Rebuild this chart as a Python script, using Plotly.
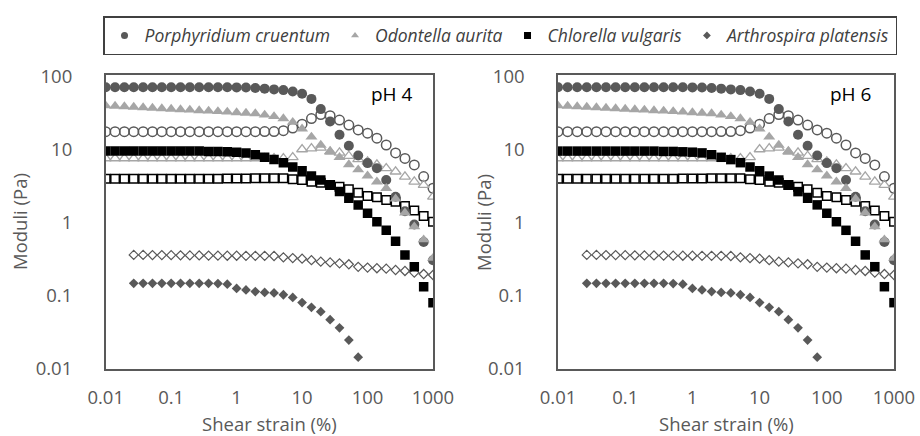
import plotly.graph_objects as go

# ---------------- data ----------------
strain = [0.01, 0.0139, 0.0193, 0.0268, 0.0373, 0.0518, 0.0720, 0.1, 0.139, 0.193,
          0.268, 0.373, 0.518, 0.720, 1.0, 1.39, 1.93, 2.68, 3.73, 5.18,
          7.20, 10, 13.9, 19.3, 26.8, 37.3, 51.8, 72.0, 100, 139,
          193, 268, 373, 518, 720, 1000]
strain_arthro = strain[3:]
strain_arthro_g1 = strain[3:28]

# Porphyridium cruentum
porph_g1 = [72.4, 72.4, 72.4, 72.4, 72.4, 72.4, 72.4, 72.4, 72.4, 72.4,
            72.4, 72.4, 72.4, 72.4, 72.0, 71.6, 70.8, 69.2, 67.6, 66.1,
            63.1, 58.9, 50.1, 36.3, 24.5, 16.2, 11.4, 8.41, 6.61, 5.62,
            3.89, 2.29, 1.45, 0.955, 0.55, 0.309]
porph_g2 = [17.8, 17.8, 17.8, 17.8, 17.8, 17.8, 17.8, 17.8, 17.8, 17.8,
            17.8, 17.8, 17.8, 17.8, 17.8, 17.8, 17.8, 17.9, 17.9, 18.4,
            20.0, 22.6, 26.9, 30.5, 29.5, 25.7, 21.9, 18.8, 17.0, 14.5,
            11.7, 9.12, 7.67, 6.24, 4.32, 2.99]
# Odontella aurita
odont_g1 = [40.5, 39.9, 39.3, 38.7, 38.1, 37.5, 36.9, 36.4, 35.8, 35.3,
            34.7, 34.2, 33.7, 33.2, 32.6, 32.1, 31.6, 30.2, 28.8, 26.9,
            24.0, 19.5, 15.1, 11.7, 9.55, 7.94, 6.31, 5.37, 4.42, 3.67,
            2.99, 2.14, 1.38, 0.89, 0.59, 0.33]
odont_g2 = [7.67, 7.67, 7.67, 7.67, 7.67, 7.67, 7.67, 7.67, 7.67, 7.67,
            7.67, 7.67, 7.67, 7.67, 7.67, 7.67, 7.67, 7.67, 7.67, 7.70,
            7.94, 10.2, 10.5, 10.7, 9.48, 9.18, 8.28, 7.45, 6.92, 6.31,
            5.62, 5.05, 4.31, 3.68, 3.31, 2.29]
# Chlorella vulgaris
chlor_g1 = [9.66, 9.66, 9.66, 9.66, 9.66, 9.66, 9.66, 9.66, 9.66, 9.66,
            9.66, 9.55, 9.55, 9.44, 9.33, 9.12, 8.61, 7.94, 7.38, 6.70,
            5.85, 5.19, 4.39, 3.88, 3.31, 2.69, 2.18, 1.77, 1.36, 1.04,
            0.794, 0.562, 0.365, 0.252, 0.134, 0.081]
chlor_g2 = [4.02, 4.02, 4.02, 4.02, 4.02, 4.02, 4.02, 4.02, 4.02, 4.02,
            4.04, 4.04, 4.05, 4.06, 4.07, 4.08, 4.09, 4.09, 4.09, 4.09,
            3.97, 3.88, 3.68, 3.56, 3.32, 3.14, 2.90, 2.60, 2.34, 2.25,
            2.07, 1.96, 1.71, 1.48, 1.25, 1.04]
# Arthrospira platensis
arthro_g1 = [0.149, 0.149, 0.149, 0.149, 0.149, 0.149, 0.149, 0.149, 0.149, 0.148,
             0.145, 0.127, 0.121, 0.115, 0.112, 0.110, 0.104, 0.0955, 0.0813, 0.070,
             0.061, 0.0473, 0.0366, 0.0249, 0.0145]
arthro_g2 = [0.365, 0.365, 0.364, 0.363, 0.362, 0.361, 0.360, 0.359, 0.358, 0.357,
             0.356, 0.356, 0.355, 0.355, 0.355, 0.353, 0.339, 0.331, 0.324, 0.309,
             0.295, 0.288, 0.280, 0.272, 0.251, 0.245, 0.240, 0.237, 0.227, 0.220,
             0.209, 0.200, 0.194]

species = ["Porphyridium cruentum", "Odontella aurita", "Chlorella vulgaris", "Arthrospira platensis"]
panel_labels = ["pH 4", "pH 6"]
x_title = "Shear strain (%)"
y_title = "Moduli (Pa)"
x_tickvals = [0.01, 0.1, 1, 10, 100, 1000]
x_ticktext = ["0.01", "0.1", "1", "10", "100", "1000"]
y_tickvals = [0.01, 0.1, 1, 10, 100]
y_ticktext = ["0.01", "0.1", "1", "10", "100"]

# ---------------- styles ----------------
DARK = "#595959"
LIGHT = "#A6A6A6"
BLACK = "#000000"

series = [
    # (x, y, symbol, color, size, linewidth)
    (strain, porph_g2, "circle-open", DARK, 9.5, 1.5),
    (strain, odont_g2, "triangle-up-open", LIGHT, 9.5, 1.3),
    (strain, chlor_g2, "square-open", BLACK, 8.5, 1.5),
    (strain_arthro, arthro_g2, "diamond-open", DARK, 7, 1.2),
    (strain, porph_g1, "circle", DARK, 10, 0),
    (strain, odont_g1, "triangle-up", LIGHT, 10.5, 0),
    (strain, chlor_g1, "square", BLACK, 9.5, 0),
    (strain_arthro_g1, arthro_g1, "diamond", DARK, 7.5, 0),
]

fig = go.Figure()
W, H = 920, 436
doms_x = [[105.7 / W, 433.0 / W], [558.0 / W, 894.0 / W]]
dom_y = [(H - 369.0) / H, (H - 75.0) / H]

for p in range(2):
    xa = "x" if p == 0 else "x2"
    ya = "y" if p == 0 else "y2"
    for (xs, ys, sym, col, sz, lw) in series:
        fig.add_trace(go.Scatter(
            x=xs, y=ys, mode="markers", xaxis=xa, yaxis=ya, showlegend=False,
            marker=dict(symbol=sym, color=col, size=sz,
                        line=dict(width=lw, color=col)),
            hoverinfo="skip"))

# legend entries
leg_styles = [("circle", DARK, 7), ("triangle-up", LIGHT, 7), ("square", BLACK, 7), ("diamond", DARK, 6)]
for name, (sym, col, sz) in zip(species, leg_styles):
    fig.add_trace(go.Scatter(x=[None], y=[None], mode="markers", name=name,
                             marker=dict(symbol=sym, color=col, size=sz), showlegend=True))

FONT = "Open Sans"
FS = 18.5
axis_common = dict(
    type="log", showgrid=False, zeroline=False, ticks="", automargin=False,
    showline=True, linecolor=DARK, linewidth=1.5, mirror=True,
    tickfont=dict(family=FONT, size=FS, color=DARK),
)
ytitle_x = [20.0 / W, 484.0 / W]
for p in range(2):
    xk = "xaxis" if p == 0 else "xaxis2"
    yk = "yaxis" if p == 0 else "yaxis2"
    fig.update_layout({
        xk: dict(axis_common, domain=doms_x[p], range=[-2, 3], anchor="y" if p == 0 else "y2",
                 tickvals=x_tickvals, ticktext=x_ticktext, ticklabelstandoff=11),
        yk: dict(axis_common, domain=dom_y, range=[-2, 2.027], anchor="x" if p == 0 else "x2",
                 tickvals=y_tickvals, ticktext=y_ticktext, ticklabelstandoff=28),
    })
    # axis titles
    fig.add_annotation(text=x_title, xref="paper", yref="paper",
                       x=(doms_x[p][0] + doms_x[p][1]) / 2, y=(H - 423.0) / H,
                       showarrow=False, xanchor="center", yanchor="middle",
                       font=dict(family=FONT, size=FS, color=DARK))
    fig.add_annotation(text=y_title, xref="paper", yref="paper",
                       x=ytitle_x[p], y=(dom_y[0] + dom_y[1]) / 2, textangle=-90,
                       showarrow=False, xanchor="center", yanchor="middle",
                       font=dict(family=FONT, size=FS, color=DARK))
    # panel label
    fig.add_annotation(text=panel_labels[p], xref=("x" if p == 0 else "x2") + " domain",
                       yref=("y" if p == 0 else "y2") + " domain",
                       x=0.876 if p == 0 else 0.870, y=0.935, showarrow=False,
                       xanchor="center", yanchor="middle",
                       font=dict(family=FONT, size=19, color="#000000"))

fig.update_layout(
    width=W, height=H, margin=dict(l=0, r=0, t=0, b=0, autoexpand=False),
    paper_bgcolor="white", plot_bgcolor="white",
    legend=dict(orientation="h", x=0.5435, xanchor="center", y=(H - 16) / H, yanchor="top",
                bordercolor="#404040", borderwidth=1.5,
                font=dict(family=FONT, size=17.5, color="#404040", style="italic"),
                itemwidth=30),
)

fig.write_html("out.html")
